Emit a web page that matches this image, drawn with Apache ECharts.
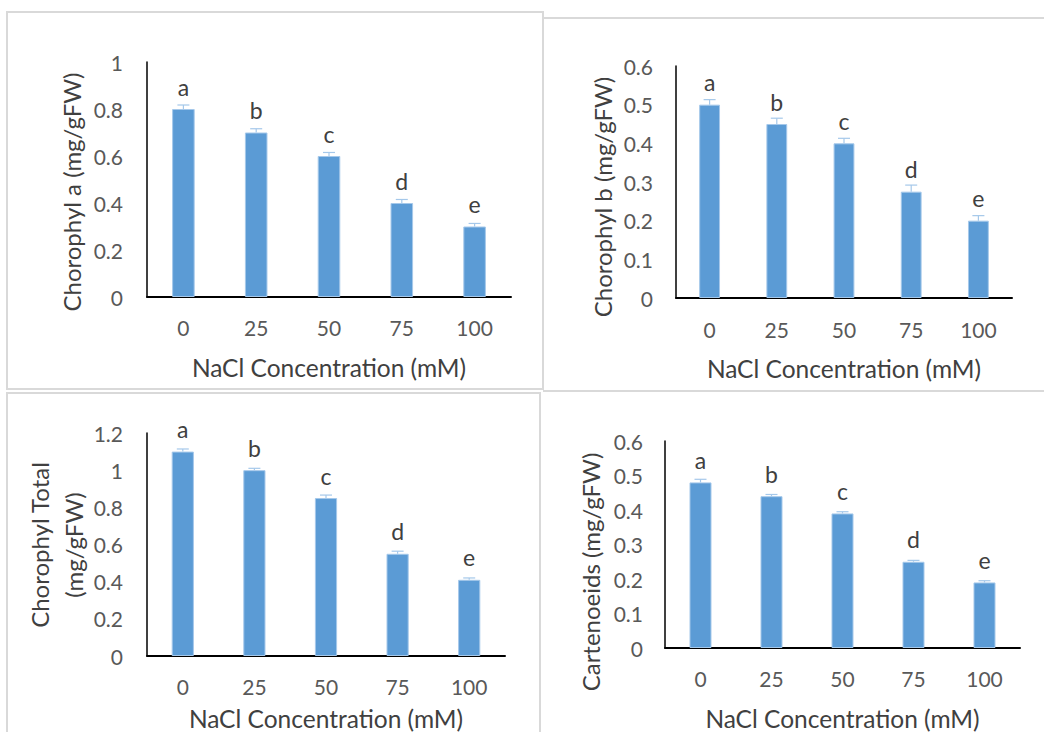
<!DOCTYPE html>
<html><head><meta charset="utf-8">
<script src="https://cdn.jsdelivr.net/npm/echarts@6/dist/echarts.min.js"></script>
<style>html,body{margin:0;padding:0;background:#fff}#c{width:1044px;height:732px}</style>
</head><body><div id="c"></div>
<script>
const categories = ['0', '25', '50', '75', '100'];
const letters = ['a', 'b', 'c', 'd', 'e'];
const chlA = [0.80, 0.70, 0.60, 0.40, 0.30];
const chlAErr = [0.017, 0.016, 0.015, 0.015, 0.013];
const chlB = [0.50, 0.45, 0.40, 0.275, 0.20];
const chlBErr = [0.013, 0.015, 0.013, 0.017, 0.013];
const chlTotal = [1.10, 1.00, 0.85, 0.55, 0.41];
const chlTotalErr = [0.014, 0.010, 0.016, 0.014, 0.010];
const carot = [0.48, 0.44, 0.39, 0.25, 0.19];
const carotErr = [0.009, 0.005, 0.005, 0.004, 0.005];
const yMax = [1, 0.6, 1.2, 0.6];
const yStep = [0.2, 0.1, 0.2, 0.1];
const yTitles = ['Chorophyl a (mg/gFW)', 'Chorophyl b (mg/gFW)', 'Chorophyl Total\n(mg/gFW)', 'Cartenoeids (mg/gFW)'];
const xTitle = 'NaCl Concentration (mM)';

const FONT = 'Lato, "Open Sans", sans-serif';
const values = [chlA, chlB, chlTotal, carot];
const errs = [chlAErr, chlBErr, chlTotalErr, carotErr];
const grids = [
  {left: 147, top: 62, width: 364, height: 235},
  {left: 676, top: 66, width: 336, height: 232},
  {left: 147, top: 433, width: 358, height: 224},
  {left: 665, top: 441, width: 355, height: 207}
];
const xNameGap = [58, 58, 50, 58];
const xLabelMargin = [20, 21, 20, 20];
const yLabelMargin = [24, 23, 24, 22];
const yTitlePos = [[71, 192], [602, 197], [56, 545], [590, 572]];

const chart = echarts.init(document.getElementById('c'), null, {renderer: 'svg'});

const xAxis = grids.map((g, i) => ({
  type: 'category', gridIndex: i, data: categories,
  name: xTitle, nameLocation: 'middle', nameGap: xNameGap[i],
  nameTextStyle: {fontFamily: FONT, fontSize: 24.5, color: '#404040'},
  axisLine: {lineStyle: {color: '#000', width: 2}},
  axisTick: {show: false},
  axisLabel: {margin: xLabelMargin[i], fontFamily: FONT, fontSize: 21, color: '#595959'},
  splitLine: {show: false}
}));
const yAxis = grids.map((g, i) => ({
  type: 'value', gridIndex: i, min: 0, max: yMax[i], interval: yStep[i],
  axisLine: {show: true, lineStyle: {color: '#000', width: 1.5}},
  axisTick: {show: false},
  splitLine: {show: false},
  axisLabel: {margin: yLabelMargin[i], fontFamily: FONT, fontSize: 21, color: '#595959'}
}));

const series = [];
values.forEach((vals, i) => {
  series.push({
    type: 'bar', xAxisIndex: i, yAxisIndex: i, data: vals, barWidth: '31%',
    itemStyle: {color: '#5b9bd5', borderColor: '#a5c8ea', borderWidth: 1},
    label: {show: true, position: 'top', distance: 11, formatter: p => letters[p.dataIndex],
      fontFamily: FONT, fontSize: 23, color: '#404040'},
    z: 2
  });
  series.push({
    type: 'custom', xAxisIndex: i, yAxisIndex: i, z: 3,
    data: vals.map((v, k) => [k, v, errs[i][k]]),
    renderItem: (params, api) => {
      const base = api.coord([api.value(0), api.value(1)]);
      const top = api.coord([api.value(0), api.value(1) + api.value(2)]);
      const hw = 6;
      const st = {stroke: '#a5c8ea', lineWidth: 1.2};
      return {type: 'group', children: [
        {type: 'line', shape: {x1: base[0], y1: base[1], x2: base[0], y2: top[1]}, style: st},
        {type: 'line', shape: {x1: base[0] - hw, y1: top[1], x2: base[0] + hw, y2: top[1]}, style: st}
      ]};
    }
  });
});

const border = {stroke: '#d9d9d9', lineWidth: 2};
const graphic = [
  {type: 'rect', shape: {x: 7, y: 12, width: 536, height: 377}, style: Object.assign({fill: 'none'}, border), silent: true},
  {type: 'polyline', shape: {points: [[543, 18], [1044, 18]]}, style: border, silent: true},
  {type: 'polyline', shape: {points: [[543, 391], [1044, 391]]}, style: border, silent: true},
  {type: 'polyline', shape: {points: [[7, 732], [7, 393], [540, 393], [540, 732]]}, style: Object.assign({fill: 'none'}, border), silent: true}
];
yTitles.forEach((t, i) => {
  graphic.push({
    type: 'text', x: yTitlePos[i][0], y: yTitlePos[i][1], rotation: Math.PI / 2,
    style: {text: t, align: 'center', verticalAlign: 'middle', fontFamily: FONT, fontSize: 24,
      lineHeight: 34, fill: '#404040'}
  });
});

chart.setOption({
  animation: false,
  backgroundColor: '#fff',
  grid: grids,
  xAxis, yAxis, series, graphic
});
</script></body></html>
